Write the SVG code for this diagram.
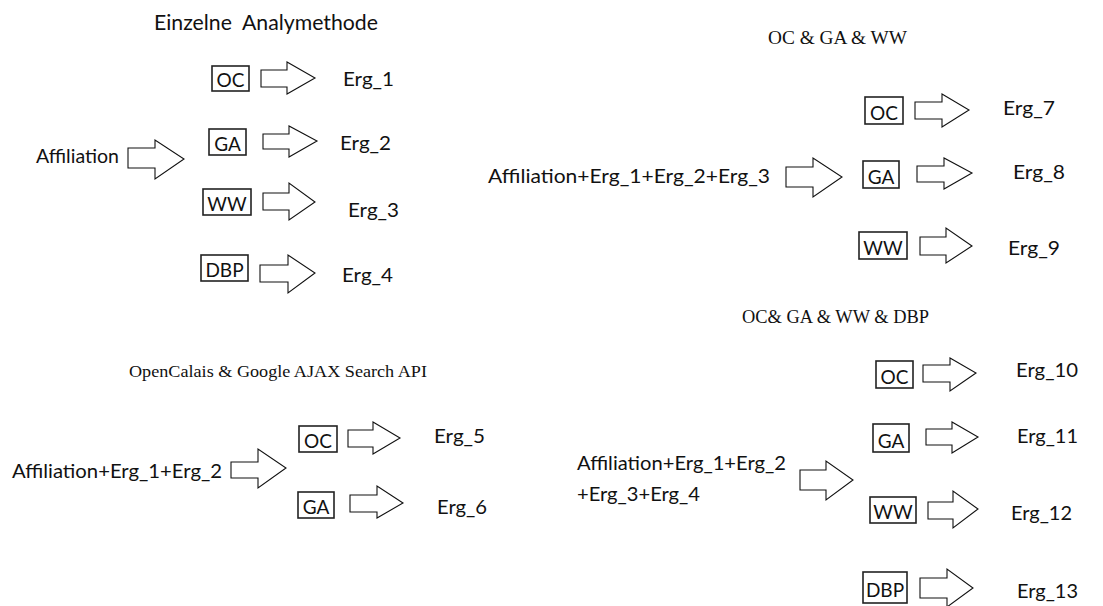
<svg xmlns="http://www.w3.org/2000/svg" width="1103" height="606" viewBox="0 0 1103 606">
  <style>
    .lbl { font-family: Lato, "Liberation Sans", sans-serif; font-size: 20px; fill: #111; }
    .ttl-sans { font-family: Lato, "Liberation Sans", sans-serif; font-size: 21px; fill: #111; white-space: pre; }
    .ttl-serif { font-family: "Liberation Serif", serif; fill: #111; }
    .box rect { fill: #fff; stroke: #222; stroke-width: 1.6; }
    .box text { font-family: Lato, "Liberation Sans", sans-serif; font-size: 19px; fill: #111; text-anchor: middle; }
    .arr { fill: #fff; stroke: #111; stroke-width: 1.1; stroke-linejoin: miter; }
  </style>
  <rect width="1103" height="606" fill="#fff"/>

  <!-- group titles -->
  <g id="titles">
    <text class="ttl-sans" x="154" y="30" textLength="224" lengthAdjust="spacingAndGlyphs" xml:space="preserve">Einzelne  Analymethode</text>
    <text class="ttl-serif" x="768" y="44" font-size="19" textLength="139" lengthAdjust="spacingAndGlyphs">OC &amp; GA &amp; WW</text>
    <text class="ttl-serif" x="129" y="377" font-size="17" textLength="298" lengthAdjust="spacingAndGlyphs">OpenCalais &amp; Google AJAX Search API</text>
    <text class="ttl-serif" x="742" y="323" font-size="19" textLength="187" lengthAdjust="spacingAndGlyphs">OC&amp; GA &amp; WW &amp; DBP</text>
  </g>

  <!-- inputs -->
  <g id="in-affiliation"><text class="lbl" x="36" y="163" textLength="83" lengthAdjust="spacingAndGlyphs">Affiliation</text></g>
  <g id="in-erg123"><text class="lbl" x="488" y="183" textLength="282" lengthAdjust="spacingAndGlyphs">Affiliation+Erg_1+Erg_2+Erg_3</text></g>
  <g id="in-erg12"><text class="lbl" x="12" y="478" textLength="210" lengthAdjust="spacingAndGlyphs">Affiliation+Erg_1+Erg_2</text></g>
  <g id="in-erg1234">
    <text class="lbl" x="577" y="470" textLength="209" lengthAdjust="spacingAndGlyphs">Affiliation+Erg_1+Erg_2</text>
    <text class="lbl" x="577" y="501" textLength="123" lengthAdjust="spacingAndGlyphs">+Erg_3+Erg_4</text>
  </g>

  <!-- method boxes -->
  <g id="oc1" class="box"><rect x="212" y="66" width="37" height="25"/><text x="230.5" y="87">OC</text></g>
  <g id="ga2" class="box"><rect x="209" y="129" width="37" height="26"/><text x="227.5" y="151">GA</text></g>
  <g id="ww3" class="box"><rect x="203" y="189" width="48" height="26"/><text x="227" y="211">WW</text></g>
  <g id="dbp4" class="box"><rect x="201" y="255" width="47" height="26"/><text x="224.5" y="277">DBP</text></g>

  <g id="oc7" class="box"><rect x="865" y="97" width="38" height="27"/><text x="884" y="120">OC</text></g>
  <g id="ga8" class="box"><rect x="863" y="161" width="36" height="27"/><text x="881" y="184">GA</text></g>
  <g id="ww9" class="box"><rect x="859" y="232" width="48" height="27"/><text x="883" y="255">WW</text></g>

  <g id="oc5" class="box"><rect x="299" y="426" width="38" height="26"/><text x="318" y="448">OC</text></g>
  <g id="ga6" class="box"><rect x="298" y="492" width="36" height="26"/><text x="316" y="514">GA</text></g>

  <g id="oc10" class="box"><rect x="876" y="361" width="37" height="27"/><text x="894.5" y="384">OC</text></g>
  <g id="ga11" class="box"><rect x="873" y="424" width="36" height="28"/><text x="891" y="448">GA</text></g>
  <g id="ww12" class="box"><rect x="870" y="497" width="46" height="26"/><text x="893" y="519">WW</text></g>
  <g id="dbp13" class="box"><rect x="863" y="572" width="44" height="31"/><text x="885" y="597">DBP</text></g>

  <!-- results -->
  <g id="erg1"><text class="lbl" x="343" y="86" textLength="51" lengthAdjust="spacingAndGlyphs">Erg_1</text></g>
  <g id="erg2"><text class="lbl" x="340" y="150" textLength="51" lengthAdjust="spacingAndGlyphs">Erg_2</text></g>
  <g id="erg3"><text class="lbl" x="348" y="217" textLength="51" lengthAdjust="spacingAndGlyphs">Erg_3</text></g>
  <g id="erg4"><text class="lbl" x="342" y="282" textLength="51" lengthAdjust="spacingAndGlyphs">Erg_4</text></g>
  <g id="erg5"><text class="lbl" x="434" y="443" textLength="51" lengthAdjust="spacingAndGlyphs">Erg_5</text></g>
  <g id="erg6"><text class="lbl" x="437" y="514" textLength="50" lengthAdjust="spacingAndGlyphs">Erg_6</text></g>
  <g id="erg7"><text class="lbl" x="1003" y="115" textLength="52" lengthAdjust="spacingAndGlyphs">Erg_7</text></g>
  <g id="erg8"><text class="lbl" x="1013" y="179" textLength="52" lengthAdjust="spacingAndGlyphs">Erg_8</text></g>
  <g id="erg9"><text class="lbl" x="1008" y="255" textLength="52" lengthAdjust="spacingAndGlyphs">Erg_9</text></g>
  <g id="erg10"><text class="lbl" x="1016" y="377" textLength="62" lengthAdjust="spacingAndGlyphs">Erg_10</text></g>
  <g id="erg11"><text class="lbl" x="1017" y="443" textLength="61" lengthAdjust="spacingAndGlyphs">Erg_11</text></g>
  <g id="erg12"><text class="lbl" x="1011" y="520" textLength="61" lengthAdjust="spacingAndGlyphs">Erg_12</text></g>
  <g id="erg13"><text class="lbl" x="1017" y="598" textLength="61" lengthAdjust="spacingAndGlyphs">Erg_13</text></g>

  <!-- block arrows -->
  <g id="connectors">
    <polygon class="arr" points="128,148 155,148 155,140 184,159 155,179 155,168 128,168"/>
    <polygon class="arr" points="261,70 287,70 287,62 315,78 287,94 287,87 261,87"/>
    <polygon class="arr" points="263,134 289,134 289,126 317,141 289,157 289,149 263,149"/>
    <polygon class="arr" points="263,193 289,193 289,183 315,202 289,220 289,210 263,210"/>
    <polygon class="arr" points="260,265 288,265 288,255 315,273 288,293 288,282 260,282"/>

    <polygon class="arr" points="786,167 813,167 813,158 842,177 813,197 813,187 786,187"/>
    <polygon class="arr" points="915,102 942,102 942,94 969,110 942,127 942,119 915,119"/>
    <polygon class="arr" points="917,166 944,166 944,158 972,173 944,189 944,182 917,182"/>
    <polygon class="arr" points="920,237 946,237 946,228 972,246 946,263 946,255 920,255"/>

    <polygon class="arr" points="231,462 258,462 258,449 286,468 258,488 258,478 231,478"/>
    <polygon class="arr" points="348,430 373,430 373,422 400,438 373,454 373,447 348,447"/>
    <polygon class="arr" points="350,495 377,495 377,486 403,503 377,518 377,512 350,512"/>

    <polygon class="arr" points="800,470 826,470 826,461 853,480 826,500 826,490 800,490"/>
    <polygon class="arr" points="923,365 950,365 950,358 976,373 950,391 950,382 923,382"/>
    <polygon class="arr" points="926,429 952,429 952,422 978,437 952,453 952,445 926,445"/>
    <polygon class="arr" points="928,502 953,502 953,491 978,509 953,528 953,519 928,519"/>
    <polygon class="arr" points="920,578 947,578 947,569 973,588 947,607 947,598 920,598"/>
  </g>
</svg>
